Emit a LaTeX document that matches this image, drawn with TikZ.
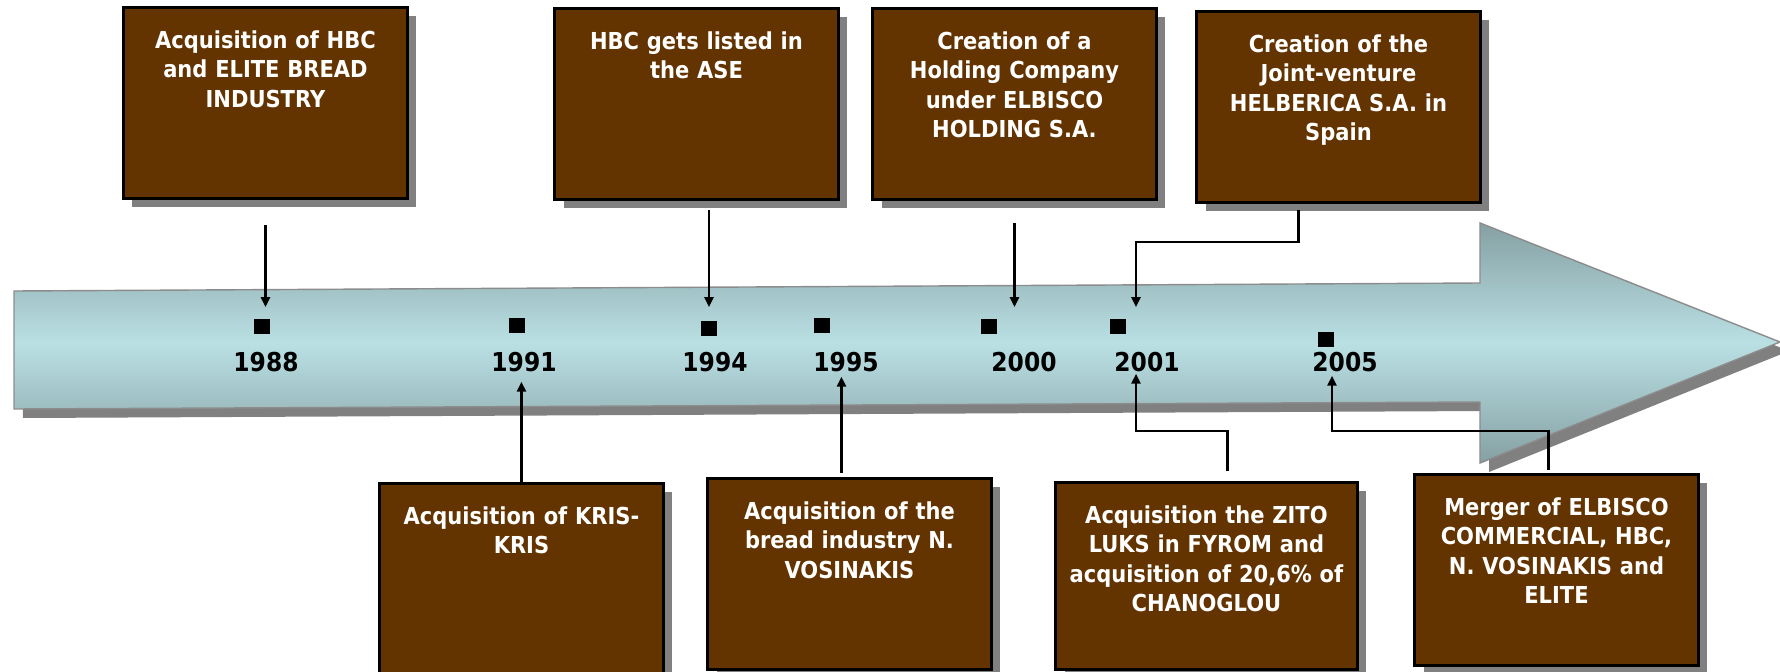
\documentclass[tikz,border=0pt]{standalone}
\usepackage{fontspec}
\setmainfont{DejaVu Sans Condensed}
\usetikzlibrary{arrows.meta,shadows}

\definecolor{eventbrown}{RGB}{99,51,0}
\definecolor{shadowgray}{RGB}{128,128,128}
\definecolor{bandlight}{RGB}{186,224,228}
\definecolor{banddark}{RGB}{133,160,163}
\definecolor{bandedge}{RGB}{140,140,140}

\tikzset{
  boxshadow/.style={drop shadow={shadow xshift=0.18cm, shadow yshift=-0.18cm,
      opacity=1, fill=shadowgray}},
  event/.style={boxshadow, draw=black, line width=1.7pt, fill=eventbrown,
    text=white, font=\bfseries\fontsize{13.3}{16.7}\selectfont, align=center,
    anchor=north west, inner xsep=0pt, inner ysep=0pt, text width=5.68cm,
    text height=0.82cm, text depth=3.0cm},
  yearmark/.style={fill=black, inner sep=0pt, minimum width=0.32cm,
    minimum height=0.3cm},
  yearlbl/.style={font=\bfseries\fontsize{14.8}{16}\selectfont,
    inner sep=0pt, anchor=base},
  conn/.style={line width=1.5pt, -{Triangle[length=0.2cm, width=0.18cm]}}
}

\begin{document}
\begin{tikzpicture}[x=0.02cm, y=-0.02cm]
\clip (0,0) rectangle (1780,672);

% timeline band
\path[boxshadow, draw=bandedge, line width=0.8pt,
      top color=banddark, bottom color=banddark, middle color=bandlight]
  (14,291) -- (1480,283) -- (1480,223) -- (1780,342) -- (1480,463)
  -- (1480,402) -- (14,409) -- cycle;

\foreach \yr/\mx/\my/\lx in {1988/262/326/266, 1991/517/325/524,
    1994/709/328/715, 1995/822/325/846, 2000/989/326/1024,
    2001/1118/326/1147, 2005/1326/339/1345}
{
  \node [yearmark] (m\yr) at (\mx,\my) {};
  \node [yearlbl] (y\yr) at (\lx,371) {\yr};
}

% events above the band
\node [event] (b1) at (122,6) {Acquisition of HBC\\and ELITE BREAD\\INDUSTRY};
\node [event] (b2) at (553,7) {HBC gets listed in\\the ASE};
\node [event] (b3) at (871,7) {Creation of a\\Holding Company\\under ELBISCO\\HOLDING S.A.};
\node [event] (b4) at (1195,10) {Creation of the\\Joint-venture\\HELBERICA S.A. in\\Spain};

% events below the band
\node [event] (b5) at (378,482) {Acquisition of KRIS-\\KRIS};
\node [event] (b6) at (706,477) {Acquisition of the\\bread industry N.\\VOSINAKIS};
\node [event, text width=6.04cm, text depth=2.92cm] (b7) at (1054,481)
  {Acquisition the ZITO\\LUKS in FYROM and\\acquisition of 20,6\% of\\CHANOGLOU};
\node [event] (b8) at (1413,473) {Merger of ELBISCO\\COMMERCIAL, HBC,\\N. VOSINAKIS and\\ELITE};

\draw [conn, shorten <=0.5cm, shorten >=0.22cm] (b1.south) -- (b1.south |- m1988.north);
\draw [conn, shorten <=0.18cm, shorten >=0.26cm] (m1994 |- b2.south) -- (m1994.north);
\draw [conn, shorten <=0.44cm, shorten >=0.22cm] (b3.south) -- (b3.south |- m2000.north);
\draw [conn, shorten <=0.12cm, shorten >=0.22cm] ([xshift=-0.8cm]b4.south)
    -- ++(0,38) -| ([xshift=0.36cm]m2001.north);

\draw [conn, shorten >=0.2cm] (b5.north) -- (b5.north |- y1991.south);
\draw [conn, shorten <=0.08cm, shorten >=0.1cm] ([xshift=-0.16cm]b6.north)
    -- ([xshift=-0.16cm]b6.north |- y1995.south);
\draw [conn, shorten <=0.2cm, shorten >=0.04cm] ([xshift=0.42cm]b7.north)
    -- ++(0,-50) -| ([xshift=-0.22cm]y2001.south);
\draw [conn, shorten <=0.06cm, shorten >=0.08cm] ([xshift=-0.16cm]b8.north)
    -- ++(0,-42) -| ([xshift=-0.26cm]y2005.south);
\end{tikzpicture}
\end{document}
